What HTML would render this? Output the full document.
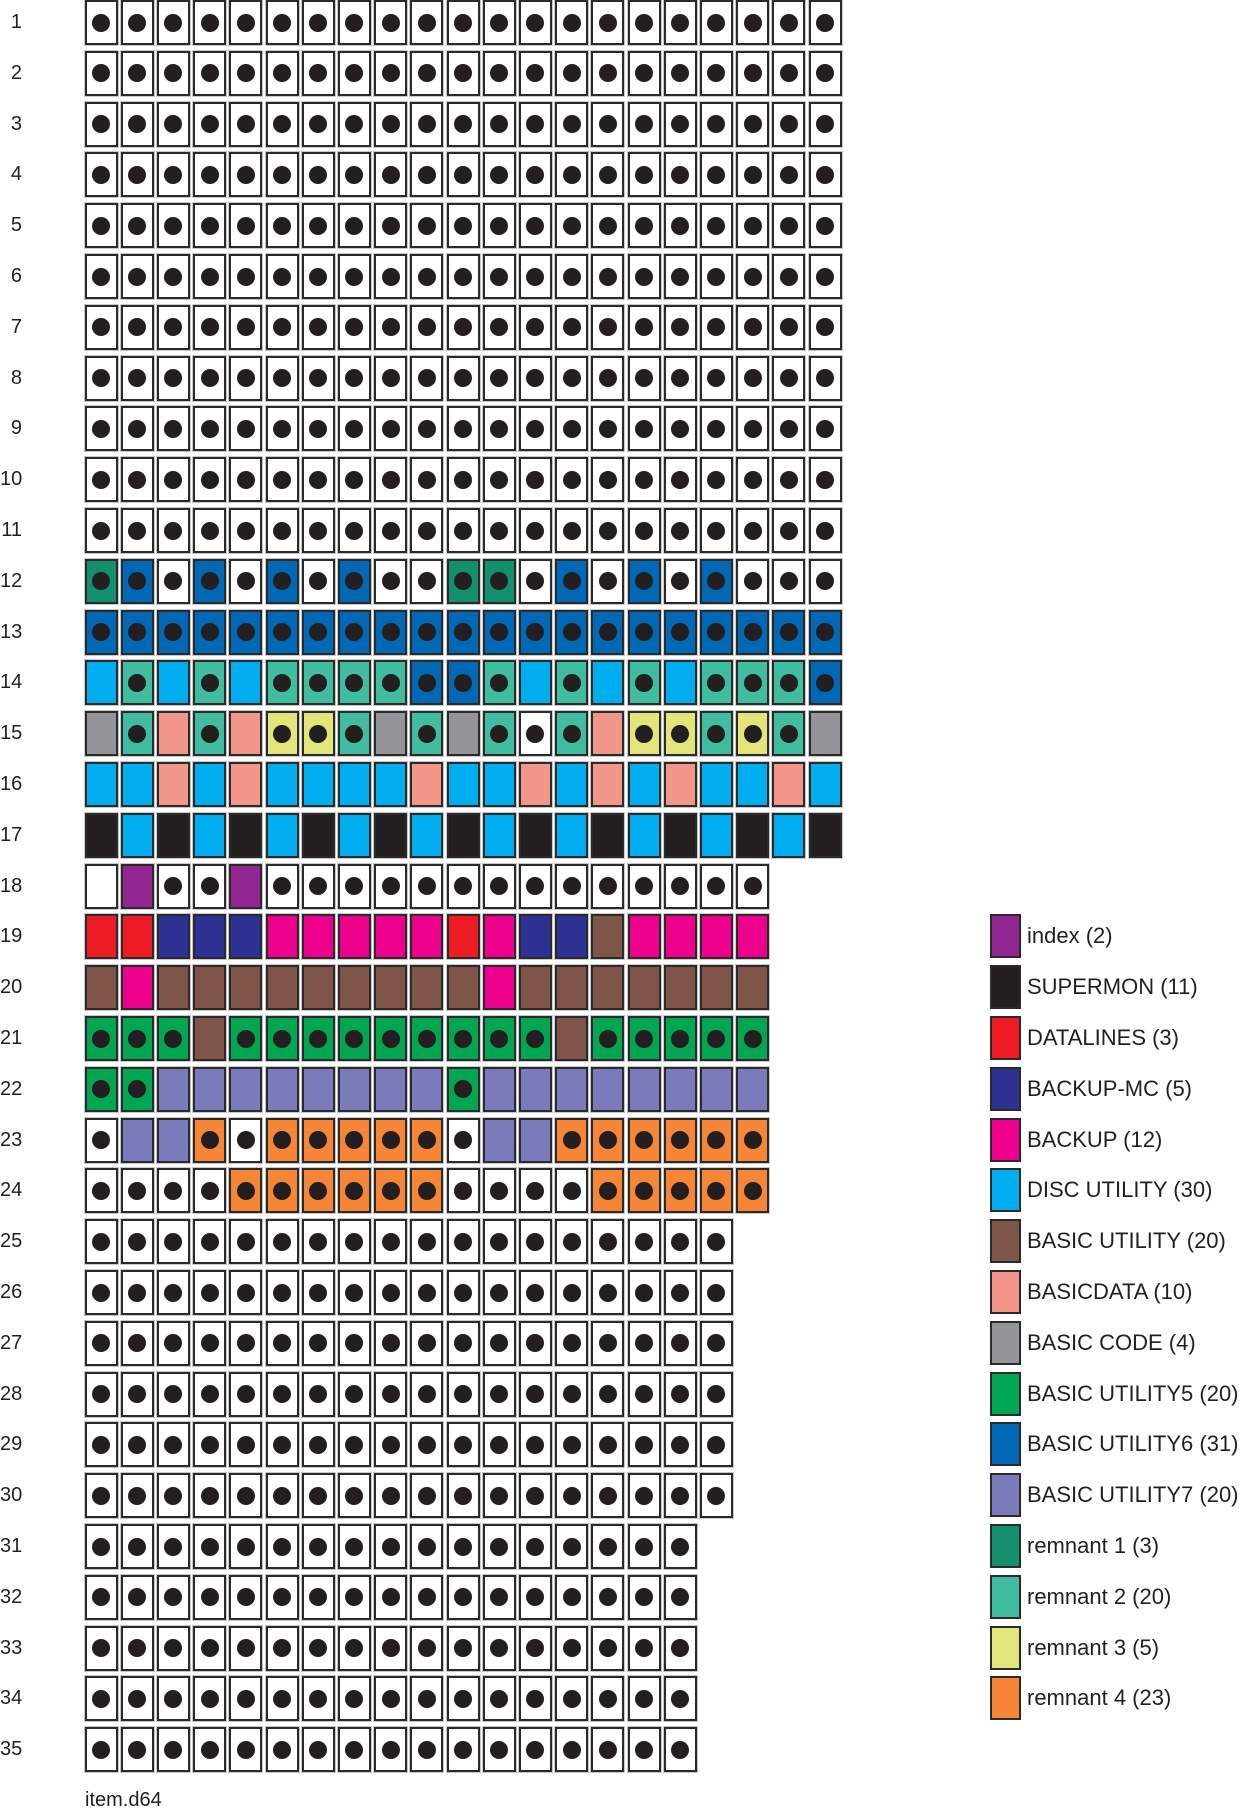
<!DOCTYPE html>
<html><head><meta charset="utf-8"><style>
body{margin:0;width:1239px;height:1809px;background:#fff;position:relative;overflow:hidden;font-family:"Liberation Sans",sans-serif;color:#231f20}
.c{position:absolute;width:29px;height:41px;border:2px solid #2a2a2a;box-shadow:0 0 0 1px #c8c8c8}
.c i{position:absolute;left:5.5px;top:11.5px;width:18px;height:18px;border-radius:50%;background:#231f20}
.rl{position:absolute;left:0;width:22px;text-align:right;font-size:20px;line-height:44px}
.lg{position:absolute;left:1027px;font-size:22px;line-height:44px;white-space:nowrap}
.sw{position:absolute;left:990px;width:27px;height:40px;border:2px solid #2a2a2a}
</style></head><body>
<div id="g"></div>
<div id="lab"></div>
<div class="rl" style="top:0px">1</div><div class="rl" style="top:50.8px">2</div><div class="rl" style="top:101.6px">3</div><div class="rl" style="top:152.4px">4</div><div class="rl" style="top:203.2px">5</div><div class="rl" style="top:254px">6</div><div class="rl" style="top:304.8px">7</div><div class="rl" style="top:355.6px">8</div><div class="rl" style="top:406.4px">9</div><div class="rl" style="top:457.2px">10</div><div class="rl" style="top:508px">11</div><div class="rl" style="top:558.8px">12</div><div class="rl" style="top:609.6px">13</div><div class="rl" style="top:660.4px">14</div><div class="rl" style="top:711.2px">15</div><div class="rl" style="top:762px">16</div><div class="rl" style="top:812.8px">17</div><div class="rl" style="top:863.6px">18</div><div class="rl" style="top:914.4px">19</div><div class="rl" style="top:965.2px">20</div><div class="rl" style="top:1016px">21</div><div class="rl" style="top:1066.8px">22</div><div class="rl" style="top:1117.6px">23</div><div class="rl" style="top:1168.4px">24</div><div class="rl" style="top:1219.2px">25</div><div class="rl" style="top:1270px">26</div><div class="rl" style="top:1320.8px">27</div><div class="rl" style="top:1371.6px">28</div><div class="rl" style="top:1422.4px">29</div><div class="rl" style="top:1473.2px">30</div><div class="rl" style="top:1524px">31</div><div class="rl" style="top:1574.8px">32</div><div class="rl" style="top:1625.6px">33</div><div class="rl" style="top:1676.4px">34</div><div class="rl" style="top:1727.2px">35</div>

<div class="sw" style="top:914.4px;background:#92278f"></div><div class="lg" style="top:914.4px">index (2)</div>
<div class="sw" style="top:965.2px;background:#231f20"></div><div class="lg" style="top:965.2px">SUPERMON (11)</div>
<div class="sw" style="top:1016px;background:#ed1c24"></div><div class="lg" style="top:1016px">DATALINES (3)</div>
<div class="sw" style="top:1066.8px;background:#2e3192"></div><div class="lg" style="top:1066.8px">BACKUP-MC (5)</div>
<div class="sw" style="top:1117.6px;background:#ec008c"></div><div class="lg" style="top:1117.6px">BACKUP (12)</div>
<div class="sw" style="top:1168.4px;background:#00aeef"></div><div class="lg" style="top:1168.4px">DISC UTILITY (30)</div>
<div class="sw" style="top:1219.2px;background:#7f5549"></div><div class="lg" style="top:1219.2px">BASIC UTILITY (20)</div>
<div class="sw" style="top:1270px;background:#f3968a"></div><div class="lg" style="top:1270px">BASICDATA (10)</div>
<div class="sw" style="top:1320.8px;background:#939598"></div><div class="lg" style="top:1320.8px">BASIC CODE (4)</div>
<div class="sw" style="top:1371.6px;background:#00a651"></div><div class="lg" style="top:1371.6px">BASIC UTILITY5 (20)</div>
<div class="sw" style="top:1422.4px;background:#0068b4"></div><div class="lg" style="top:1422.4px">BASIC UTILITY6 (31)</div>
<div class="sw" style="top:1473.2px;background:#7b7bbb"></div><div class="lg" style="top:1473.2px">BASIC UTILITY7 (20)</div>
<div class="sw" style="top:1524px;background:#138f6e"></div><div class="lg" style="top:1524px">remnant 1 (3)</div>
<div class="sw" style="top:1574.8px;background:#3fbd9e"></div><div class="lg" style="top:1574.8px">remnant 2 (20)</div>
<div class="sw" style="top:1625.6px;background:#e1e57a"></div><div class="lg" style="top:1625.6px">remnant 3 (5)</div>
<div class="sw" style="top:1676.4px;background:#f68535"></div><div class="lg" style="top:1676.4px">remnant 4 (23)</div>

<div style="position:absolute;left:85px;top:1788px;font-size:20px;line-height:24px">item.d64</div>
<script>
var C={W:'#fff',w:'#fff',T:'#138f6e',B:'#0068b4',L:'#00aeef',R:'#3fbd9e',G:'#939598',S:'#f3968a',Y:'#e1e57a',K:'#231f20',P:'#92278f',D:'#ed1c24',N:'#2e3192',M:'#ec008c',O:'#7f5549',E:'#00a651',V:'#7b7bbb',A:'#f68535'};
var dot='WTBRYEA';
var rows=[];
for(var i=0;i<11;i++)rows.push('WWWWWWWWWWWWWWWWWWWWW');
rows.push('TBWBWBWBWWTTWBWBWBWWW');
rows.push('BBBBBBBBBBBBBBBBBBBBB');
rows.push('LRLRLRRRRBBRLRLRLRRRB');
rows.push('GRSRSYYRGRGRWRSYYRYRG');
rows.push('LLSLSLLLLSLLSLSLSLLSL');
rows.push('KLKLKLKLKLKLKLKLKLKLK');
rows.push('wPWWPWWWWWWWWWWWWWW');
rows.push('DDNNNMMMMMDMNNOMMMM');
rows.push('OMOOOOOOOOOMOOOOOOO');
rows.push('EEEOEEEEEEEEEOEEEEE');
rows.push('EEVVVVVVVVEVVVVVVVV');
rows.push('WVVAWAAAAAWVVAAAAAA');
rows.push('WWWWAAAAAAWWWWAAAAA');
for(i=0;i<6;i++)rows.push('WWWWWWWWWWWWWWWWWW');
for(i=0;i<5;i++)rows.push('WWWWWWWWWWWWWWWWW');
var h='';
rows.forEach(function(r,ri){for(var j=0;j<r.length;j++){var ch=r[j];
h+='<div class="c" style="left:'+(84.5+j*36.2).toFixed(1)+'px;top:'+(ri*50.8).toFixed(1)+'px;background:'+C[ch]+'">'+(dot.indexOf(ch)>=0?'<i></i>':'')+'</div>';}});
document.getElementById('g').innerHTML=h;
</script>
</body></html>
